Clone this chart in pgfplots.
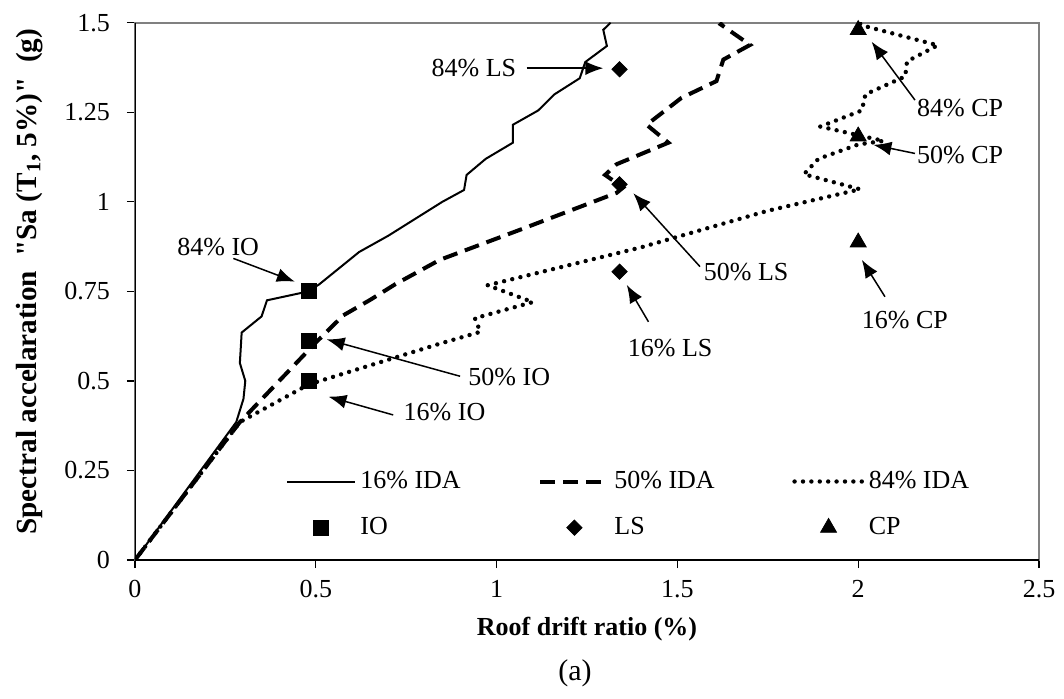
\documentclass[border=0pt]{standalone}
\usepackage{fontspec}
\setmainfont{Liberation Serif}
\usepackage{pgfplots}
\pgfplotsset{compat=1.18}
\usetikzlibrary{arrows.meta}

\pgfplotstableread{
x y
0 0
0.28 0.385
0.30 0.45
0.305 0.50
0.29 0.55
0.295 0.635
0.35 0.68
0.365 0.725
0.48 0.75
0.51 0.77
0.62 0.86
0.70 0.905
0.85 1.0
0.91 1.033
0.917 1.075
0.97 1.12
1.045 1.165
1.045 1.215
1.115 1.255
1.16 1.30
1.23 1.345
1.245 1.39
1.305 1.435
1.295 1.48
1.315 1.5
}\idasixteen

\pgfplotstableread{
x y
0 0
0.29 0.385
0.50 0.607
0.576 0.683
0.65 0.726
0.72 0.77
0.843 0.838
1.065 0.922
1.332 1.025
1.35 1.04
1.30 1.075
1.332 1.105
1.475 1.165
1.415 1.215
1.511 1.29
1.608 1.337
1.627 1.397
1.701 1.438
1.62 1.495
1.625 1.5
}\idafifty

\pgfplotstableread{
x y
0 0
0.29 0.385
0.48 0.49
0.84 0.603
0.955 0.637
0.94 0.675
1.10 0.72
0.975 0.767
1.40 0.873
1.75 0.975
2.005 1.035
1.85 1.077
1.89 1.12
2.00 1.16
2.07 1.17
1.895 1.21
2.01 1.255
2.02 1.30
2.13 1.35
2.135 1.392
2.22 1.437
2.02 1.49
2.0 1.5
}\idaeightyfour

\pgfplotstableread{
x y
0.48 0.50
0.48 0.612
0.48 0.751
}\iopts

\pgfplotstableread{
x y
1.34 0.805
1.34 1.049
1.34 1.370
}\lspts

\pgfplotstableread{
x y
2.0 0.887
2.0 1.183
2.0 1.480
}\cppts

\pgfplotsset{
  myleg/.style={legend image code/.code={\draw[mark repeat=2,mark phase=2,##1] plot coordinates {(0pt,0pt) (17pt,0pt) (34pt,0pt)};}},
}

\begin{document}
\fontsize{13pt}{15.6pt}\selectfont
\begin{tikzpicture}[font=\fontsize{13pt}{15.6pt}\selectfont]
\begin{axis}[
  scale only axis, width=452pt, height=268.65pt,
  xmin=0, xmax=2.5, ymin=0, ymax=1.5,
  xtick={0,0.5,1,1.5,2,2.5}, xticklabels={0,0.5,1,1.5,2,2.5},
  ytick={0,0.25,0.5,0.75,1,1.25,1.5}, yticklabels={0,0.25,0.5,0.75,1,1.25,1.5},
  tick pos=left, tick align=outside, major tick length=4pt,
  tick style={black, line width=0.6pt},
  axis line style={draw=gray, line width=0.9pt},
  xticklabel style={yshift=-1.5pt},
  yticklabel style={xshift=-4pt},
  xlabel={\textbf{Roof drift ratio (\%)}},
  ylabel={\textbf{Spectral accelaration\ \ \textquotedbl Sa (T\textsubscript{1}, 5\%)\textquotedbl\ \ (g)}},
  xlabel style={at={(axis description cs:0.5,-0.1295)}, anchor=center},
  ylabel style={at={(axis description cs:-0.117,0.518)}, anchor=center, font=\fontsize{14.6pt}{17.5pt}\selectfont},
  legend columns=3,
  legend style={draw=none, fill=none, inner sep=0pt,
    at={(axis description cs:0.167,0.174)}, anchor=north west,
    row sep=8.5pt,
    /tikz/every odd column/.append style={column sep=0pt},
    /tikz/every even column/.append style={column sep=0pt}},
  legend cell align=left,
]
\addplot[black, line width=1pt, myleg] table[x=x,y=y] {\idasixteen};
\addlegendentry{\makebox[87pt][l]{16\% IDA}}
\addplot[black, line width=2pt, dash pattern=on 7.5pt off 4pt, myleg] table[x=x,y=y] {\idafifty};
\addlegendentry{\makebox[87pt][l]{50\% IDA}}
\addplot[black, line width=2.2pt, dash pattern=on 0pt off 4.2pt, line cap=round, myleg] table[x=x,y=y] {\idaeightyfour};
\addlegendentry{84\% IDA}
\addplot[black, only marks, mark=square*, mark size=3.75pt, myleg] table[x=x,y=y] {\iopts};
\addlegendentry{\makebox[87pt][l]{IO}}
\addplot[black, only marks, mark=square*, mark size=2.7pt, mark options={rotate=45}, myleg] table[x=x,y=y] {\lspts};
\addlegendentry{\makebox[87pt][l]{LS}}
\addplot[black, only marks, mark=triangle*, mark size=4.6pt, myleg] table[x=x,y=y] {\cppts};
\addlegendentry{CP}

\draw[black, line width=0.9pt] (axis description cs:0,1) -- (axis description cs:0,0) -- (axis description cs:1,0);

\tikzset{ann/.style={black, line width=0.75pt, -{Latex[length=9pt,width=7pt]}}}
\draw[ann] (axis cs:0.272,0.842) -- (axis cs:0.442,0.777);
\node[inner sep=0pt] at (axis cs:0.23,0.875) {84\% IO};
\draw[ann] (axis cs:0.899,0.513) -- (axis cs:0.53,0.616);
\node[inner sep=0pt, anchor=west] at (axis cs:0.921,0.512) {50\% IO};
\draw[ann] (axis cs:0.714,0.405) -- (axis cs:0.535,0.456);
\node[inner sep=0pt, anchor=west] at (axis cs:0.742,0.414) {16\% IO};
\draw[ann] (axis cs:1.083,1.373) -- (axis cs:1.295,1.373);
\node[inner sep=0pt, anchor=east] at (axis cs:1.055,1.373) {84\% LS};
\draw[ann] (axis cs:1.5625,0.819) -- (axis cs:1.378,1.024);
\node[inner sep=0pt, anchor=west] at (axis cs:1.572,0.805) {50\% LS};
\draw[ann] (axis cs:1.42,0.665) -- (axis cs:1.36,0.768);
\node[inner sep=0pt] at (axis cs:1.48,0.591) {16\% LS};
\draw[ann] (axis cs:2.157,1.284) -- (axis cs:2.037,1.447);
\node[inner sep=0pt, anchor=west] at (axis cs:2.162,1.261) {84\% CP};
\draw[ann] (axis cs:2.157,1.135) -- (axis cs:2.042,1.159);
\node[inner sep=0pt, anchor=west] at (axis cs:2.162,1.131) {50\% CP};
\draw[ann] (axis cs:2.074,0.735) -- (axis cs:2.01,0.838);
\node[inner sep=0pt] at (axis cs:2.129,0.670) {16\% CP};
\end{axis}
\path (current axis.south) ++(-6pt,-56.5pt) node[font=\fontsize{15pt}{18pt}\selectfont] {(a)};
\pgfresetboundingbox
\path (current axis.south west) ++(-67.5pt,-69pt) rectangle ++(532pt,349pt);
\end{tikzpicture}
\end{document}
